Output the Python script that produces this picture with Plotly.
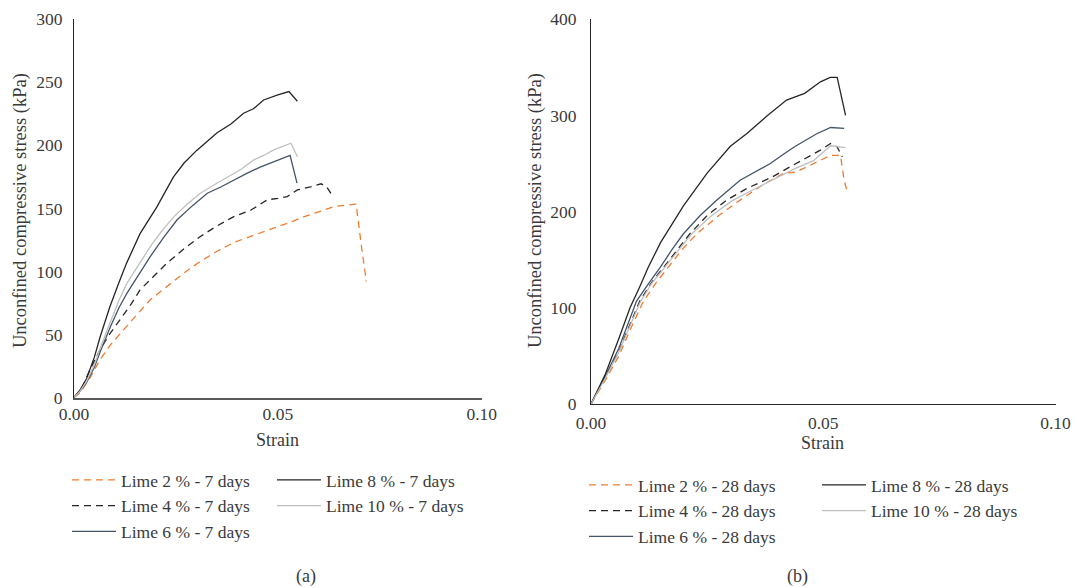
import plotly.graph_objects as go

# ---------------- Data: (a) 7 days ----------------
l2_7_x = [0, 0.0015, 0.0040, 0.0064, 0.0090, 0.0121, 0.0155, 0.0187, 0.0228, 0.0269, 0.0310, 0.0351, 0.0392, 0.0433, 0.0490, 0.0530, 0.0565, 0.0600, 0.0639, 0.0665, 0.0692, 0.0705, 0.0717]
l2_7_y = [0, 3.7, 16, 30, 42, 53.7, 66, 77.5, 88, 98.6, 108, 116, 123, 127.7, 134, 139, 143.5, 147, 151.5, 152.5, 153.4, 120, 92]

l4_7_x = [0, 0.0020, 0.0039, 0.0064, 0.0089, 0.0113, 0.0140, 0.0162, 0.0195, 0.0228, 0.0270, 0.0310, 0.0350, 0.0392, 0.0434, 0.0474, 0.0500, 0.0523, 0.0548, 0.0580, 0.0606, 0.0620, 0.0635]
l4_7_y = [0, 8, 22, 38, 51, 62, 74, 85.4, 96, 106.6, 118, 127.7, 136, 143.5, 148.7, 156.8, 158, 159.4, 164.7, 167, 169.5, 167, 159.4]

l6_7_x = [0, 0.0015, 0.0031, 0.0050, 0.0064, 0.0089, 0.0110, 0.0130, 0.0160, 0.0187, 0.0220, 0.0253, 0.0290, 0.0327, 0.0360, 0.0392, 0.0425, 0.0458, 0.0495, 0.0527, 0.0530, 0.0547]
l6_7_y = [0, 5, 12, 24, 36, 56, 71, 82.8, 98, 111.8, 127, 141, 152, 162, 167, 172.6, 178, 183, 188, 191.7, 192, 170]

l8_7_x = [0, 0.0015, 0.0031, 0.0050, 0.0064, 0.0088, 0.0110, 0.0129, 0.0162, 0.0203, 0.0244, 0.0270, 0.0301, 0.0351, 0.0385, 0.0416, 0.0440, 0.0465, 0.0500, 0.0527, 0.0548]
l8_7_y = [0, 6, 15, 32, 48, 72, 91, 106.6, 130, 151, 175, 186, 196, 210, 217, 225.5, 229, 236, 240, 242.7, 235]

l10_7_x = [0, 0.0015, 0.0031, 0.0050, 0.0064, 0.0089, 0.0110, 0.0130, 0.0160, 0.0187, 0.0215, 0.0245, 0.0280, 0.0310, 0.0345, 0.0376, 0.0410, 0.0441, 0.0465, 0.0490, 0.0532, 0.0548]
l10_7_y = [0, 5, 13, 26, 39, 60, 77, 90.7, 106, 119.7, 132, 143.5, 154, 162, 169, 175, 181, 188.5, 192, 196.4, 201.7, 191]

# ---------------- Data: (b) 28 days ----------------
l2_28_x = [0, 0.0030, 0.0060, 0.0085, 0.0113, 0.0140, 0.0166, 0.0195, 0.0228, 0.0275, 0.0321, 0.0370, 0.0415, 0.0440, 0.0458, 0.0493, 0.0516, 0.0537, 0.0545, 0.0552]
l2_28_y = [0, 24, 50, 78, 107, 126, 142, 160, 177, 196, 212, 228, 240, 241, 245, 253, 258.6, 258.6, 232.6, 220]

l4_28_x = [0, 0.0030, 0.0060, 0.0085, 0.0105, 0.0130, 0.0156, 0.0185, 0.0213, 0.0250, 0.0292, 0.0335, 0.0390, 0.0430, 0.0464, 0.0494, 0.0516, 0.0530, 0.0541]
l4_28_y = [0, 27, 55, 84, 107, 126, 142, 161, 177, 196, 212, 224, 236, 247, 256, 264, 270.8, 267.3, 257]

l6_28_x = [0, 0.0030, 0.0060, 0.0080, 0.0098, 0.0125, 0.0149, 0.0175, 0.0199, 0.0235, 0.0271, 0.0321, 0.0360, 0.0386, 0.0415, 0.0440, 0.0486, 0.0516, 0.0545]
l6_28_y = [0, 28, 58, 84, 107, 126, 142, 161, 177, 196, 212, 232.6, 243, 250, 260, 268, 281, 287.5, 286.5]

l8_28_x = [0, 0.0030, 0.0060, 0.0084, 0.0105, 0.0123, 0.0150, 0.0175, 0.0199, 0.0250, 0.0300, 0.0335, 0.0380, 0.0421, 0.0460, 0.0494, 0.0515, 0.0530, 0.0548]
l8_28_y = [0, 30, 68, 100, 122, 142, 168, 188, 206, 240, 268, 281, 300, 316, 323, 335, 339.6, 339.6, 300]

l10_28_x = [0, 0.0030, 0.0060, 0.0085, 0.0105, 0.0130, 0.0159, 0.0190, 0.0217, 0.0260, 0.0306, 0.0350, 0.0400, 0.0440, 0.0479, 0.0516, 0.0548]
l10_28_y = [0, 26, 54, 82, 105, 125, 142, 161, 177, 196, 212, 223, 235, 245, 253, 268.5, 266.6]

names_7 = ["Lime 2 % - 7 days", "Lime 4 % - 7 days", "Lime 6 % - 7 days", "Lime 8 % - 7 days", "Lime 10 % - 7 days"]
names_28 = ["Lime 2 % - 28 days", "Lime 4 % - 28 days", "Lime 6 % - 28 days", "Lime 8 % - 28 days", "Lime 10 % - 28 days"]

x_ticks = [0, 0.05, 0.10]
x_ticktext = ["0.00", "0.05", "0.10"]

# ---------------- Styles ----------------
colors = ["#ED7D31", "#262626", "#44546A", "#262626", "#BFBFBF"]
dashes = ["7px,5px", "7px,5px", "solid", "solid", "solid"]
FONT = "Liberation Serif, Times New Roman, serif"
TXT = "#3a3a3a"
W, H = 1077, 588

fig = go.Figure()

data_7 = [(l2_7_x, l2_7_y), (l4_7_x, l4_7_y), (l6_7_x, l6_7_y), (l8_7_x, l8_7_y), (l10_7_x, l10_7_y)]
data_28 = [(l2_28_x, l2_28_y), (l4_28_x, l4_28_y), (l6_28_x, l6_28_y), (l8_28_x, l8_28_y), (l10_28_x, l10_28_y)]
leg_7 = ["legend", "legend", "legend", "legend2", "legend2"]
leg_28 = ["legend3", "legend3", "legend3", "legend4", "legend4"]

for i, (xs, ys) in enumerate(data_7):
    fig.add_trace(go.Scatter(x=xs, y=ys, mode="lines", name=names_7[i],
                             line=dict(color=colors[i], width=1.3, dash=dashes[i]),
                             xaxis="x", yaxis="y", legend=leg_7[i], legendgroup="a%d" % i))
for i, (xs, ys) in enumerate(data_28):
    fig.add_trace(go.Scatter(x=xs, y=ys, mode="lines", name=names_28[i],
                             line=dict(color=colors[i], width=1.3, dash=dashes[i]),
                             xaxis="x2", yaxis="y2", legend=leg_28[i], legendgroup="b%d" % i))

tickfont = dict(family=FONT, size=17.5, color=TXT)
xcommon = dict(range=[0, 0.10], tickvals=x_ticks, ticktext=x_ticktext, showgrid=False,
               zeroline=False, showline=True, ticks="", tickfont=tickfont,
               automargin=False, fixedrange=True)
ycommon = dict(showgrid=False, zeroline=False, showline=True, linecolor="#262626",
               linewidth=1, ticks="", tickfont=tickfont,
               automargin=False, fixedrange=True)

legcommon = dict(xref="paper", yref="paper", xanchor="left", yanchor="top",
                 orientation="v", bgcolor="rgba(0,0,0,0)", borderwidth=0,
                 font=dict(family=FONT, size=17.5, color=TXT), tracegroupgap=0,
                 itemwidth=44, itemclick=False, itemdoubleclick=False)

def cx(px):
    return px / W

def cy(py):
    return 1 - py / H

fig.update_layout(
    width=W, height=H,
    margin=dict(l=0, r=0, t=0, b=0, autoexpand=False),
    paper_bgcolor="white", plot_bgcolor="white",
    showlegend=True,
    xaxis=dict(domain=[cx(74), cx(481.7)], anchor="y", linecolor="#595959", linewidth=1.6,
               ticklabelstandoff=0, **xcommon),
    yaxis=dict(domain=[cy(397.5), cy(19.3)], anchor="x", range=[0, 300], dtick=50,
               ticklabelstandoff=7, **ycommon),
    xaxis2=dict(domain=[cx(591), cx(1055.5)], anchor="y2", linecolor="#262626", linewidth=1.4,
                ticklabelstandoff=3, **xcommon),
    yaxis2=dict(domain=[cy(404), cy(19.3)], anchor="x2", range=[0, 400], dtick=100,
                ticklabelstandoff=10, **ycommon),
    legend=dict(x=cx(67), y=cy(462), **legcommon),
    legend2=dict(x=cx(272), y=cy(462), **legcommon),
    legend3=dict(x=cx(584), y=cy(467), **legcommon),
    legend4=dict(x=cx(817), y=cy(467), **legcommon),
)

annots = [
    dict(text="Unconfined compressive stress (kPa)", x=cx(20), y=cy(211), textangle=-90, size=18.5),
    dict(text="Unconfined compressive stress (kPa)", x=cx(535), y=cy(211), textangle=-90, size=18.5),
    dict(text="Strain", x=cx(277), y=cy(440), size=18),
    dict(text="Strain", x=cx(822), y=cy(443), size=18),
    dict(text="(a)", x=cx(306), y=cy(576), size=18),
    dict(text="(b)", x=cx(797), y=cy(576), size=18),
]
for a in annots:
    sz = a.pop("size")
    fig.add_annotation(xref="paper", yref="paper", showarrow=False, xanchor="center", yanchor="middle",
                       font=dict(family=FONT, size=sz, color=TXT), **a)

fig.write_html("out.html")
